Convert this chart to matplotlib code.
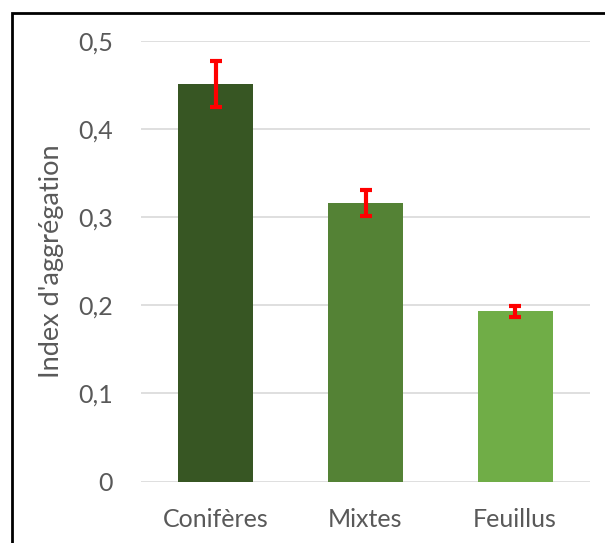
import matplotlib
matplotlib.use("Agg")
import matplotlib.pyplot as plt
from matplotlib.patches import Rectangle

categories = ["Conifères", "Mixtes", "Feuillus"]
values = [0.451, 0.316, 0.193]
errors = [0.026, 0.015, 0.0065]
colors = ["#375623", "#548235", "#70AD47"]
yticks = [0, 0.1, 0.2, 0.3, 0.4, 0.5]
ytick_labels = ["0", "0,1", "0,2", "0,3", "0,4", "0,5"]

W, H = 605, 543
fig = plt.figure(figsize=(W / 100, H / 100), dpi=100)
plt.rcParams['font.family'] = ['Lato', 'DejaVu Sans']

ax = fig.add_axes([141 / W, 1 - 481.5 / H, (590 - 141) / W, (481.5 - 40.7) / H])
x = list(range(len(categories)))
ax.bar(x, values, width=0.5, color=colors, zorder=3)
ax.errorbar(x, values, yerr=errors, fmt="none", ecolor="#FF0000", elinewidth=3,
            capsize=4.5, capthick=3, zorder=4)
ax.set_xlim(-0.5, 2.5)
ax.set_ylim(0, 0.5)
ax.set_yticks(yticks)
ax.set_yticklabels(ytick_labels)
ax.set_xticks(x)
ax.set_xticklabels(categories)
ax.yaxis.grid(True, color="#D9D9D9", linewidth=1.2, zorder=0)
ax.set_axisbelow(True)
for s in ax.spines.values():
    s.set_visible(False)
ax.tick_params(axis="both", length=0, colors="#595959", labelsize=18)
ax.tick_params(axis="y", pad=20)
ax.tick_params(axis="x", pad=19)
ax.set_ylabel("Index d'aggrégation", color="#595959", fontsize=19.5)
ax.yaxis.set_label_coords((64 - 141) / (590 - 141), 0.5)

fig.patches.append(Rectangle((12 / W, -0.1), 1.2, 1 - 13 / H + 0.1, transform=fig.transFigure,
                             fill=False, edgecolor="black", linewidth=2, zorder=10))

fig.savefig("out.png", dpi=100)
